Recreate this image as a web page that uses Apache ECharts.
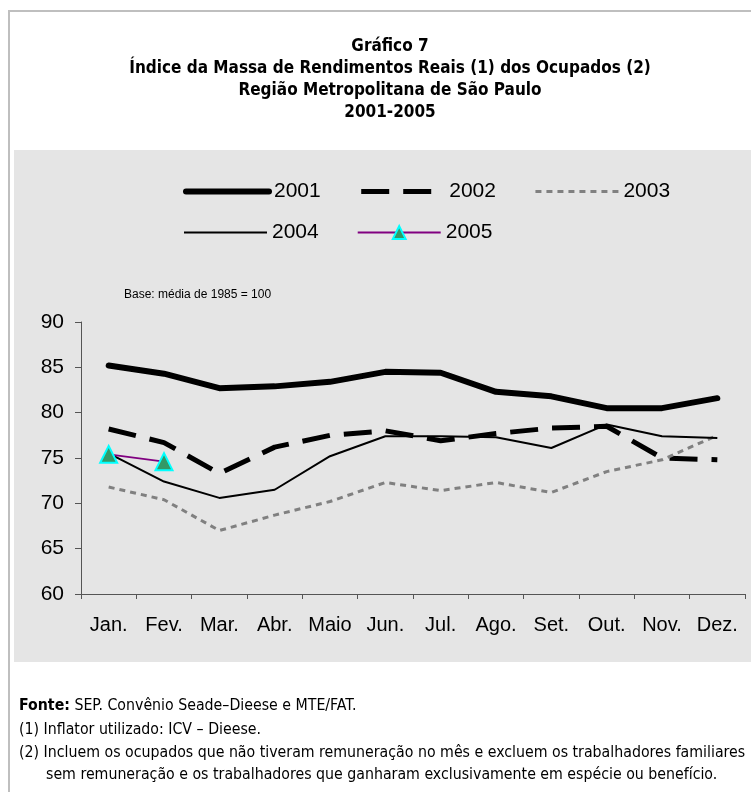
<!DOCTYPE html>
<html>
<head>
<meta charset="utf-8">
<script src="https://cdn.jsdelivr.net/npm/echarts@6/dist/echarts.min.js"></script>
<style>
    html, body { margin: 0; padding: 0; background: #fff; }
    #chart { width: 751px; height: 792px; }
</style>
</head>
<body>
<div id="chart"></div>
<script>
// Chart data
const months = ['Jan.', 'Fev.', 'Mar.', 'Abr.', 'Maio', 'Jun.', 'Jul.', 'Ago.', 'Set.', 'Out.', 'Nov.', 'Dez.'];
const serie2001 = [85.2, 84.3, 82.7, 82.9, 83.4, 84.5, 84.4, 82.3, 81.8, 80.5, 80.5, 81.6];
const serie2002 = [78.2, 76.7, 73.3, 76.2, 77.5, 78.0, 76.9, 77.7, 78.3, 78.5, 75.0, 74.8];
const serie2003 = [71.8, 70.4, 67.0, 68.7, 70.2, 72.3, 71.4, 72.3, 71.2, 73.5, 74.8, 77.5];
const serie2004 = [75.5, 72.4, 70.6, 71.5, 75.2, 77.4, 77.4, 77.3, 76.1, 78.7, 77.4, 77.2];
const serie2005 = [75.4, 74.6];
const yTicks = [60, 65, 70, 75, 80, 85, 90];

const titleLines = [
    'Gráfico 7',
    'Índice da Massa de Rendimentos Reais (1) dos Ocupados (2)',
    'Região Metropolitana de São Paulo',
    '2001-2005'
];

const narrow = '"Liberation Sans Narrow", "Arial Narrow", "DejaVu Sans Condensed", sans-serif';
const sans = '"Liberation Sans", Arial, sans-serif';

// line styles shared by series and their legend entries
const style2001 = { color: '#000', width: 6, cap: 'round', join: 'round' };
const style2002 = { color: '#000', width: 5, type: [28, 14] };
const style2003 = { color: '#808080', width: 3, type: [6, 5] };
const style2004 = { color: '#000', width: 2 };
const style2005 = { color: '#800080', width: 2 };
const hiddenDot = { opacity: 0 };

const myChart = echarts.init(document.getElementById('chart'));

const legendText = { fontFamily: sans, fontSize: 21, color: '#000' };
const noteFont = '15.75px ' + narrow;

const option = {
    animation: false,
    backgroundColor: '#ffffff',
    title: {
        text: titleLines.join('\n'),
        left: 385,
        textAlign: 'center',
        top: 31,
        textStyle: {
            fontFamily: narrow,
            fontSize: 17,
            fontWeight: 'bold',
            lineHeight: 22,
            color: '#000'
        }
    },
    graphic: [
        // outer frame (top + left edges)
        { type: 'rect', z: -10, shape: { x: 8, y: 10, width: 760, height: 2 }, style: { fill: '#bfbfbf' } },
        { type: 'rect', z: -10, shape: { x: 8, y: 10, width: 2, height: 800 }, style: { fill: '#bfbfbf' } },
        // grey plot panel
        { type: 'rect', z: -10, shape: { x: 14, y: 150, width: 740, height: 512 }, style: { fill: '#e5e5e5' } },
        {
            type: 'text', left: 124, top: 289,
            style: { text: 'Base: média de 1985 = 100', font: '12px ' + sans, fill: '#000' }
        },
        {
            type: 'text', left: 19, top: 698,
            style: {
                text: '{b|Fonte:} SEP. Convênio Seade–Dieese e MTE/FAT.',
                font: noteFont, fill: '#000',
                rich: { b: { fontFamily: narrow, fontSize: 15.75, fontWeight: 'bold' } }
            }
        },
        {
            type: 'text', left: 19, top: 722,
            style: { text: '(1) Inflator utilizado: ICV – Dieese.', font: noteFont, fill: '#000' }
        },
        {
            type: 'text', left: 19, top: 745,
            style: { text: '(2) Incluem os ocupados que não tiveram remuneração no mês e excluem os trabalhadores familiares', font: noteFont, fill: '#000' }
        },
        {
            type: 'text', left: 46, top: 767,
            style: { text: 'sem remuneração e os trabalhadores que ganharam exclusivamente em espécie ou benefício.', font: noteFont, fill: '#000' }
        }
    ],
    legend: [
        {
            data: [
                { name: '2001', lineStyle: style2001, itemStyle: hiddenDot },
                { name: '2002', lineStyle: style2002, itemStyle: hiddenDot },
                { name: '2003', lineStyle: style2003, itemStyle: hiddenDot }
            ],
            left: 183,
            top: 181,
            padding: 0,
            itemWidth: 83,
            itemHeight: 16,
            itemGap: 38,
            textStyle: legendText
        },
        {
            data: [
                { name: '2004', lineStyle: style2004, itemStyle: hiddenDot },
                { name: '2005', lineStyle: style2005 }
            ],
            left: 183,
            top: 222,
            padding: 0,
            itemWidth: 83,
            itemHeight: 16,
            itemGap: 38,
            textStyle: legendText
        }
    ],
    grid: {
        left: 81,
        right: 6,
        top: 322,
        bottom: 198
    },
    xAxis: {
        type: 'category',
        data: months,
        boundaryGap: true,
        axisLine: { lineStyle: { color: '#555', width: 1 } },
        axisTick: { show: true, length: 5, lineStyle: { color: '#555' } },
        axisLabel: { fontFamily: sans, fontSize: 20, color: '#000', margin: 21, interval: 0 }
    },
    yAxis: {
        type: 'value',
        min: yTicks[0],
        max: yTicks[yTicks.length - 1],
        interval: 5,
        splitLine: { show: false },
        axisLine: { show: true, lineStyle: { color: '#555', width: 1 } },
        axisTick: { show: true, length: 6, lineStyle: { color: '#555' } },
        axisLabel: { fontFamily: sans, fontSize: 21, color: '#000', margin: 17 }
    },
    series: [
        {
            name: '2001',
            type: 'line',
            data: serie2001,
            symbol: 'none',
            color: '#000',
            lineStyle: style2001
        },
        {
            name: '2002',
            type: 'line',
            data: serie2002,
            symbol: 'none',
            color: '#000',
            lineStyle: style2002
        },
        {
            name: '2003',
            type: 'line',
            data: serie2003,
            symbol: 'none',
            color: '#808080',
            lineStyle: style2003
        },
        {
            name: '2004',
            type: 'line',
            data: serie2004,
            symbol: 'none',
            color: '#000',
            lineStyle: style2004
        },
        {
            name: '2005',
            type: 'line',
            data: serie2005,
            symbol: 'triangle',
            symbolSize: 17,
            color: '#339966',
            itemStyle: { color: '#339966', borderColor: '#00ffff', borderWidth: 2 },
            lineStyle: style2005,
            z: 5
        }
    ]
};

myChart.setOption(option);
</script>
</body>
</html>
